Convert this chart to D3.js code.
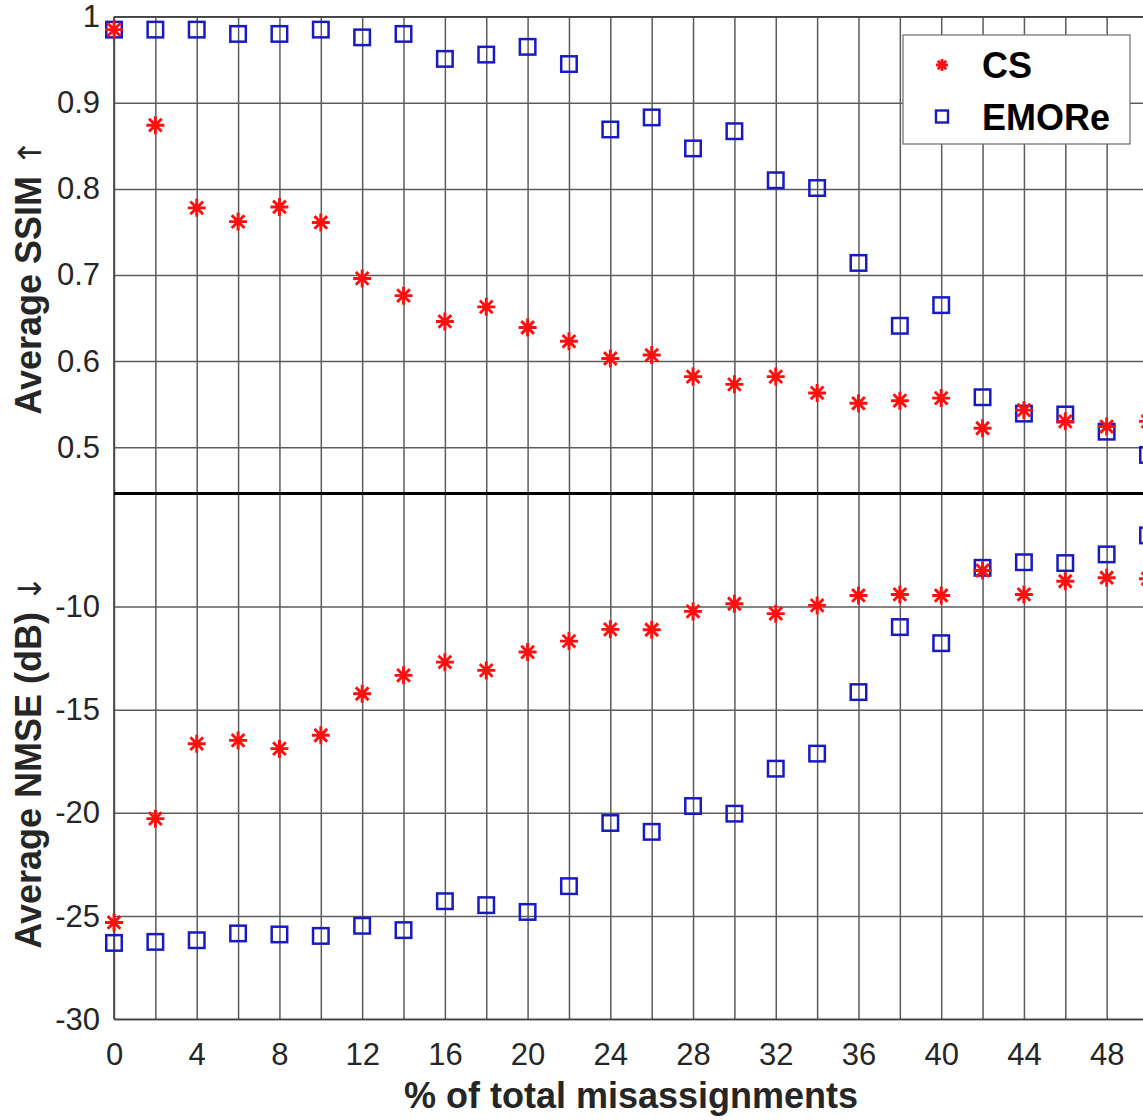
<!DOCTYPE html>
<html>
<head>
<meta charset="utf-8">
<script src="https://cdn.jsdelivr.net/npm/d3@7/dist/d3.min.js"></script>
<style>
  html, body { margin: 0; padding: 0; background: #fff; overflow: hidden; }
  svg { display: block; }
  text { font-family: "Liberation Sans", Arial, sans-serif; }
</style>
</head>
<body>
<svg id="chart" width="1143" height="1120"></svg>
<script>
// ---------------- data ----------------
const xValues = [0,2,4,6,8,10,12,14,16,18,20,22,24,26,28,30,32,34,36,38,40,42,44,46,48,50];
const csSSIM = [0.985,0.874,0.778,0.762,0.779,0.761,0.696,0.676,0.646,0.663,0.639,0.623,0.603,0.607,0.582,0.573,0.582,0.563,0.551,0.554,0.557,0.522,0.543,0.530,0.524,0.530];
const emoreSSIM = [0.985,0.985,0.985,0.980,0.980,0.985,0.976,0.980,0.951,0.956,0.965,0.945,0.869,0.883,0.847,0.867,0.810,0.801,0.714,0.641,0.665,0.558,0.539,0.538,0.518,0.491];
const csNMSE = [-25.31,-20.28,-16.65,-16.49,-16.89,-16.24,-14.23,-13.34,-12.70,-13.10,-12.21,-11.68,-11.11,-11.13,-10.24,-9.87,-10.35,-9.95,-9.47,-9.42,-9.47,-8.26,-9.42,-8.78,-8.61,-8.66];
const emoreNMSE = [-26.30,-26.25,-26.17,-25.84,-25.89,-25.96,-25.47,-25.68,-24.28,-24.47,-24.80,-23.55,-20.49,-20.92,-19.67,-20.04,-17.86,-17.13,-14.15,-11.00,-11.78,-8.13,-7.86,-7.90,-7.48,-6.56];
const ssimTicks = [0.5,0.6,0.7,0.8,0.9,1];
const nmseTicks = [-30,-25,-20,-15,-10];
const xGridTicks = [0,2,4,6,8,10,12,14,16,18,20,22,24,26,28,30,32,34,36,38,40,42,44,46,48,50];
const xLabelTicks = [0,4,8,12,16,20,24,28,32,36,40,44,48];
const seriesNames = ["CS", "EMORe"];

// ---------------- layout ----------------
const pLeft = 114, pRight = 1148, pTop = 16.7, pMid = 493.5, pBottom = 1019.3;
const svg = d3.select("#chart");

const x = d3.scaleLinear().domain([0, 50]).range([pLeft, pRight]);
const ySSIM = d3.scaleLinear().domain([0.4462, 1]).range([pMid, pTop]);
const yNMSE = d3.scaleLinear().domain([-30, -4.53]).range([pBottom, pMid]);

const gridColor = "#5c5c5c";
const textColor = "#262626";
const fontFam = "'Liberation Sans', Arial, sans-serif";

// vertical grid lines
const gx = svg.append("g").attr("transform", `translate(0,${pBottom})`)
  .call(d3.axisBottom(x).tickValues(xGridTicks).tickSize(-(pBottom - pTop)).tickFormat(""));
gx.select(".domain").remove();
gx.selectAll("line").attr("stroke", gridColor).attr("stroke-width", 1.5);

// x tick labels
const gxl = svg.append("g").attr("transform", `translate(0,${pBottom})`)
  .call(d3.axisBottom(x).tickValues(xLabelTicks).tickSize(0).tickPadding(0).tickFormat(d3.format("d")));
gxl.select(".domain").remove();
gxl.selectAll("text").attr("font-size", 31).attr("fill", textColor)
  .attr("font-family", fontFam).attr("dy", 0).attr("y", 46);

// top panel horizontal grid + labels
const gy1 = svg.append("g").attr("transform", `translate(${pLeft},0)`)
  .call(d3.axisLeft(ySSIM).tickValues(ssimTicks).tickSize(-(pRight - pLeft)).tickPadding(14)
    .tickFormat(d => d === 1 ? "1" : d3.format(".1f")(d)));
gy1.select(".domain").remove();
gy1.selectAll("line").attr("stroke", gridColor).attr("stroke-width", 1.5);
gy1.selectAll("text").attr("font-size", 31).attr("fill", textColor).attr("font-family", fontFam);

// bottom panel horizontal grid + labels
const gy2 = svg.append("g").attr("transform", `translate(${pLeft},0)`)
  .call(d3.axisLeft(yNMSE).tickValues(nmseTicks).tickSize(-(pRight - pLeft)).tickPadding(14)
    .tickFormat(d => String(d)));
gy2.select(".domain").remove();
gy2.selectAll("line").attr("stroke", gridColor).attr("stroke-width", 1.5);
gy2.selectAll("text").attr("font-size", 31).attr("fill", textColor).attr("font-family", fontFam);

// axes box
svg.append("line").attr("x1", pLeft).attr("x2", pLeft).attr("y1", pTop).attr("y2", pBottom)
  .attr("stroke", "#444").attr("stroke-width", 1.6);
svg.append("line").attr("x1", pLeft).attr("x2", pRight).attr("y1", pTop).attr("y2", pTop)
  .attr("stroke", "#444").attr("stroke-width", 1.6);
svg.append("line").attr("x1", pLeft).attr("x2", pRight).attr("y1", pBottom).attr("y2", pBottom)
  .attr("stroke", "#444").attr("stroke-width", 1.6);

// separator
svg.append("line").attr("x1", pLeft).attr("x2", pRight).attr("y1", pMid).attr("y2", pMid)
  .attr("stroke", "#000").attr("stroke-width", 3.2);

// ---------------- markers ----------------
const blue = "#1a1ac4", red = "#ff1010";
function squares(data, yScale) {
  const s = 15.5;
  svg.append("g").selectAll("rect").data(data).join("rect")
    .attr("x", (d, i) => x(xValues[i]) - s / 2)
    .attr("y", d => yScale(d) - s / 2)
    .attr("width", s).attr("height", s)
    .attr("fill", "none").attr("stroke", blue).attr("stroke-width", 2.5);
}
function starPath(r) {
  const a = r * Math.SQRT1_2;
  return `M${-r},0L${r},0M0,${-r}L0,${r}M${-a},${-a}L${a},${a}M${-a},${a}L${a},${-a}`;
}
function stars(data, yScale) {
  svg.append("g").selectAll("path").data(data).join("path")
    .attr("transform", (d, i) => `translate(${x(xValues[i])},${yScale(d)})`)
    .attr("d", starPath(9))
    .attr("fill", "none").attr("stroke", red).attr("stroke-width", 2.9);
}
squares(emoreSSIM, ySSIM);
stars(csSSIM, ySSIM);
squares(emoreNMSE, yNMSE);
stars(csNMSE, yNMSE);

// ---------------- legend ----------------
const lg = svg.append("g");
lg.append("rect").attr("x", 903).attr("y", 35).attr("width", 227).attr("height", 109)
  .attr("fill", "#fff").attr("stroke", "#777").attr("stroke-width", 1.3);
lg.append("path").attr("transform", "translate(942,65)").attr("d", starPath(6))
  .attr("fill", "none").attr("stroke", red).attr("stroke-width", 2.8);
lg.append("rect").attr("x", 936).attr("y", 110.5).attr("width", 12).attr("height", 12)
  .attr("fill", "none").attr("stroke", blue).attr("stroke-width", 2.4);
lg.append("text").attr("x", 982).attr("y", 78).text(seriesNames[0])
  .attr("font-size", 36).attr("font-weight", "bold").attr("fill", "#000");
lg.append("text").attr("x", 982).attr("y", 130).text(seriesNames[1])
  .attr("font-size", 36).attr("font-weight", "bold").attr("fill", "#000");

// ---------------- axis titles ----------------
svg.append("text").attr("x", (pLeft + pRight) / 2).attr("y", 1108).attr("text-anchor", "middle")
  .attr("font-size", 36).attr("font-weight", "bold").attr("fill", textColor)
  .text("% of total misassignments");

const t1 = svg.append("text").attr("transform", "translate(41,277) rotate(-90)")
  .attr("text-anchor", "middle").attr("font-size", 36).attr("font-weight", "bold").attr("fill", textColor);
t1.append("tspan").text("Average SSIM ");
t1.append("tspan").attr("font-weight", "normal").attr("font-family", "'DejaVu Sans', sans-serif").attr("font-size", 32).text("↑");

const t2 = svg.append("text").attr("transform", "translate(41,762) rotate(-90)")
  .attr("text-anchor", "middle").attr("font-size", 36).attr("font-weight", "bold").attr("fill", textColor);
t2.append("tspan").text("Average NMSE (dB) ");
t2.append("tspan").attr("font-weight", "normal").attr("font-family", "'DejaVu Sans', sans-serif").attr("font-size", 32).text("↓");
</script>
</body>
</html>
